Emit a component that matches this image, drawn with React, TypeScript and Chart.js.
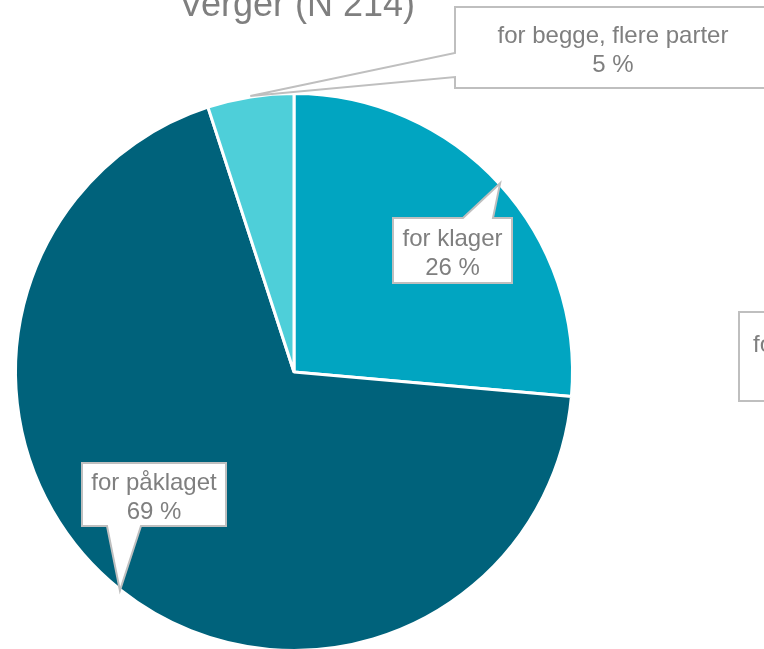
import React, { useEffect, useRef } from "react";
import { Chart, registerables } from "chart.js";

Chart.register(...registerables);

const titleText = "Verger (N 214)";
const categories = ["for klager", "for påklaget", "for begge, flere parter"];
const shares = [26.4, 68.6, 5.0];
const sliceColors = ["#01A5C1", "#00627B", "#4ECFD9"];
const cutOffLabel = ["for ingen part", "0 %"];

const FONT = "'Liberation Sans', Arial, Helvetica, sans-serif";
const TEXT_COLOR = "#7F7F7F";
const BOX_BORDER = "#BFBFBF";

type BoxSpec = { x: number; y: number; w: number; h: number; side: "top" | "bottom" | "left"; b1: number; b2: number };
const boxes: BoxSpec[] = [
  { x: 393, y: 218, w: 119, h: 65, side: "top", b1: 463, b2: 493 },
  { x: 82, y: 463, w: 144, h: 63, side: "bottom", b1: 107, b2: 141 },
  { x: 455, y: 7, w: 316, h: 81, side: "left", b1: 53, b2: 77 },
];

const calloutPlugin = {
  id: "callouts",
  afterDraw(chart: any) {
    const ctx: CanvasRenderingContext2D = chart.ctx;
    const meta = chart.getDatasetMeta(0);
    const total = shares.reduce((a, b) => a + b, 0);
    ctx.save();
    // title
    ctx.fillStyle = TEXT_COLOR;
    ctx.font = `36px ${FONT}`;
    ctx.textAlign = "center";
    ctx.textBaseline = "alphabetic";
    ctx.fillText(titleText, 297, 16);

    meta.data.forEach((arc: any, i: number) => {
      const p = arc.getProps(["x", "y", "startAngle", "endAngle", "outerRadius"], true);
      const mid = (p.startAngle + p.endAngle) / 2;
      const R = p.outerRadius + 1;
      const tx = p.x + Math.cos(mid) * R;
      const ty = p.y + Math.sin(mid) * R;
      const b = boxes[i];
      ctx.beginPath();
      if (b.side === "top") {
        ctx.moveTo(b.x, b.y);
        ctx.lineTo(b.b1, b.y);
        ctx.lineTo(tx, ty);
        ctx.lineTo(b.b2, b.y);
        ctx.lineTo(b.x + b.w, b.y);
        ctx.lineTo(b.x + b.w, b.y + b.h);
        ctx.lineTo(b.x, b.y + b.h);
      } else if (b.side === "bottom") {
        ctx.moveTo(b.x, b.y);
        ctx.lineTo(b.x + b.w, b.y);
        ctx.lineTo(b.x + b.w, b.y + b.h);
        ctx.lineTo(b.b2, b.y + b.h);
        ctx.lineTo(tx, ty);
        ctx.lineTo(b.b1, b.y + b.h);
        ctx.lineTo(b.x, b.y + b.h);
      } else {
        ctx.moveTo(b.x, b.y);
        ctx.lineTo(b.x + b.w, b.y);
        ctx.lineTo(b.x + b.w, b.y + b.h);
        ctx.lineTo(b.x, b.y + b.h);
        ctx.lineTo(b.x, b.b2);
        ctx.lineTo(tx, ty);
        ctx.lineTo(b.x, b.b1);
      }
      ctx.closePath();
      ctx.fillStyle = "#FFFFFF";
      ctx.fill();
      ctx.strokeStyle = BOX_BORDER;
      ctx.lineWidth = 2;
      ctx.lineJoin = "miter";
      ctx.stroke();

      const pct = Math.round((shares[i] / total) * 100);
      const lines = [categories[i], `${pct} %`];
      ctx.fillStyle = TEXT_COLOR;
      ctx.font = `24px ${FONT}`;
      ctx.textAlign = "center";
      const cx = b.x + b.w / 2;
      const base = b.y + (b.h - 58) / 2 + 24;
      lines.forEach((t, k) => ctx.fillText(t, cx, base + k * 29));
    });

    // cut-off callout at the right edge
    const cb = { x: 739, y: 312, w: 160, h: 89 };
    ctx.beginPath();
    ctx.rect(cb.x, cb.y, cb.w, cb.h);
    ctx.fillStyle = "#FFFFFF";
    ctx.fill();
    ctx.strokeStyle = BOX_BORDER;
    ctx.lineWidth = 2;
    ctx.stroke();
    ctx.fillStyle = TEXT_COLOR;
    ctx.font = `24px ${FONT}`;
    ctx.textAlign = "left";
    const w0 = ctx.measureText(cutOffLabel[0]).width;
    ctx.fillText(cutOffLabel[0], 753, 351.5);
    ctx.textAlign = "center";
    ctx.fillText(cutOffLabel[1], 753 + w0 / 2, 380.5);
    ctx.restore();
  },
};

export default function App() {
  const ref = useRef<HTMLCanvasElement | null>(null);
  useEffect(() => {
    if (!ref.current) return;
    const chart = new Chart(ref.current, {
      type: "pie",
      data: {
        labels: categories,
        datasets: [
          {
            data: shares,
            backgroundColor: sliceColors,
            borderColor: "#FFFFFF",
            borderWidth: 3,
          },
        ],
      },
      options: {
        responsive: false,
        animation: false,
        layout: { padding: { left: 14, top: 92, right: 190, bottom: 94 } },
        plugins: {
          legend: { display: false },
          tooltip: { enabled: false },
          title: { display: false },
        },
      },
      plugins: [calloutPlugin],
    });
    return () => chart.destroy();
  }, []);
  return (
    <div style={{ position: "fixed", left: 0, top: 0, width: 764, height: 649, overflow: "hidden", background: "#fff" }}>
      <canvas ref={ref} width={764} height={746} style={{ display: "block" }} />
    </div>
  );
}
